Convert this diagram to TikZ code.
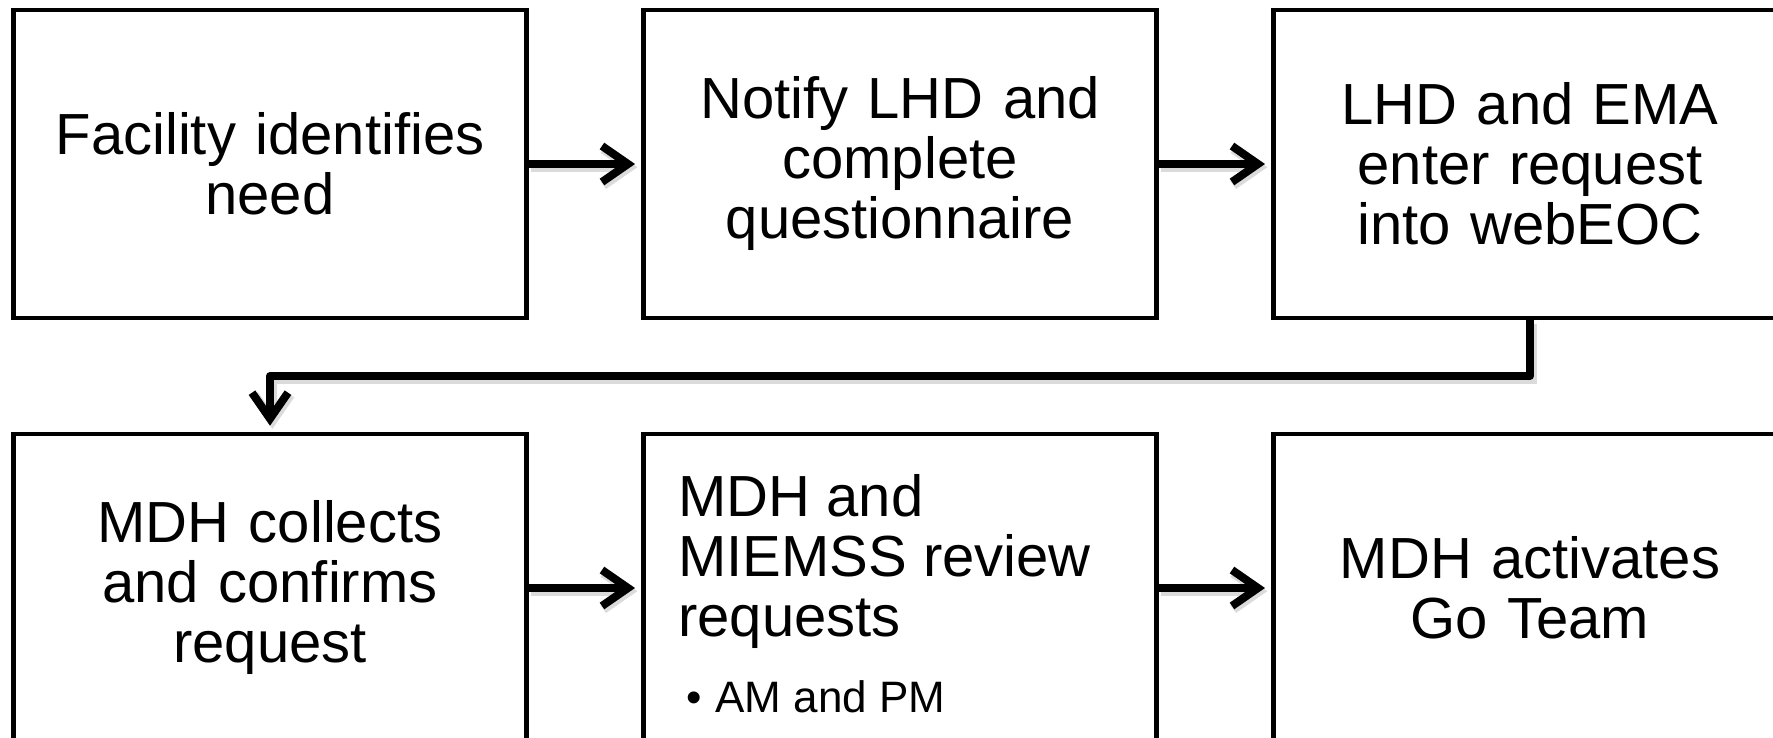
\documentclass[tikz,border=0pt]{standalone}
\usepackage{fontspec}
\setmainfont{Liberation Sans}
\usetikzlibrary{arrows.meta}
\begin{document}
\begin{tikzpicture}[x=0.5pt,y=-0.5pt,
 box/.style={draw=black, line width=2.3pt, minimum width=256.7pt, minimum height=154pt, inner sep=0pt, align=center, text width=240pt, font=\fontsize{29}{30}\selectfont},
 conn/.style={line width=4pt, -{Straight Barb[length=13pt,width=18pt]}, shorten >=3pt, line join=round,
   preaction={draw=black!14, line width=4.6pt, transform canvas={shift={(1.2pt,-1.6pt)}}}}
]
\useasboundingbox (0,0) rectangle (1773,738);
\clip (0,0) rectangle (1773,738);
\node[box] (b1) at (270,164) {Facility identifies\\need};
\node[box] (b2) at (900,164) {Notify LHD and\\complete\\questionnaire};
\node[box] (b3) at (1530,164) {LHD and EMA\\enter request\\into webEOC};
\node[box] (b4) at (270,588) {MDH collects\\and confirms\\request};
\node[box] (b5) at (900,588) {};
\node[box] (b6) at (1530,588) {MDH activates\\Go Team};
\node[anchor=north west, inner sep=0pt, align=left, font=\fontsize{29}{30}\selectfont] (b5t) at (678,474) {MDH and\\MIEMSS review\\requests};
\node[anchor=base west, inner sep=0pt, font=\fontsize{22}{26}\selectfont] (b5b) at (686,712) {•\hspace{6.8pt}AM and PM};
\draw[conn] (b1.east) -- (b2.west);
\draw[conn] (b2.east) -- (b3.west);
\draw[conn] (b4.east) -- (b5.west);
\draw[conn] (b5.east) -- (b6.west);
\coordinate (elb) at (1530,376);
\draw[conn] (b3.south) -- (elb) -| (b4.north);
\end{tikzpicture}
\end{document}
